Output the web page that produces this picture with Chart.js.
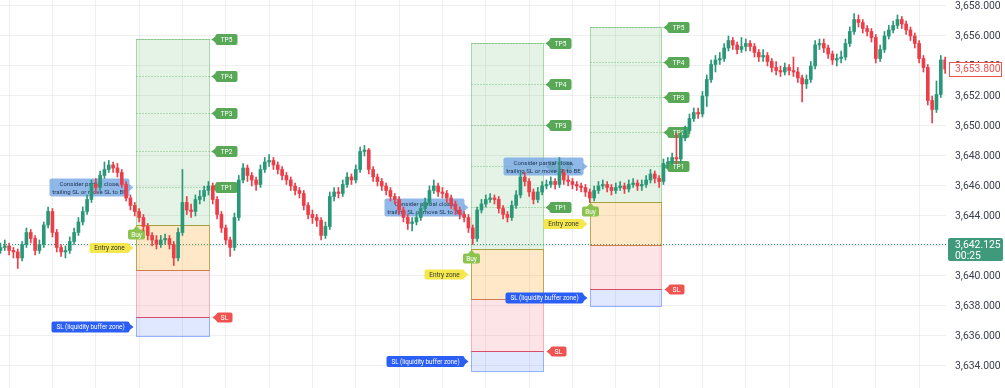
<!DOCTYPE html>
<html>
<head>
<meta charset="utf-8">
<script src="https://cdn.jsdelivr.net/npm/chart.js@4.4.1/dist/chart.umd.min.js"></script>
<style>
  html, body { margin: 0; padding: 0; background: #fff; }
  #wrap { width: 1005px; height: 388px; }
</style>
</head>
<body>
<div id="wrap"><canvas id="priceCanvas"></canvas></div>
<script>
// candles, one per index (oldest first)
var opens = [
  3641.7, 3641.9, 3642.0, 3641.7, 3641.6, 3641.2, 3642.1, 3642.9, 3642.5, 3641.7,
  3642.1, 3643.4, 3644.3, 3642.9, 3641.9, 3641.6, 3641.7, 3642.3, 3642.9, 3643.6,
  3644.3, 3645.1, 3646.1, 3645.9, 3646.7, 3647.1, 3647.4, 3647.2, 3646.9, 3646.1,
  3645.2, 3644.7, 3644.3, 3643.9, 3643.3, 3642.7, 3642.4, 3642.1, 3642.4, 3642.5,
  3642.1, 3641.2, 3642.9, 3644.9, 3644.4, 3644.3, 3645.1, 3645.3, 3645.7, 3646.0,
  3645.1, 3644.1, 3643.2, 3642.4, 3641.9, 3643.9, 3646.4, 3647.2, 3646.7, 3646.4,
  3646.1, 3647.1, 3647.6, 3647.7, 3647.4, 3647.1, 3646.7, 3646.4, 3646.0, 3645.7,
  3645.5, 3644.7, 3644.1, 3643.9, 3643.7, 3642.7, 3643.3, 3645.3, 3645.6, 3645.5,
  3646.1, 3646.6, 3646.4, 3647.1, 3648.3, 3648.4, 3647.1, 3646.6, 3646.3, 3646.0,
  3645.7, 3645.3, 3645.1, 3644.4, 3643.9, 3643.5, 3643.6, 3643.9, 3644.5, 3644.9,
  3645.7, 3646.0, 3645.6, 3645.5, 3645.2, 3644.8, 3644.4, 3644.1, 3643.9, 3643.2,
  3642.5, 3644.4, 3644.8, 3645.1, 3645.2, 3645.1, 3644.5, 3644.1, 3643.9, 3644.7,
  3645.4, 3646.6, 3646.3, 3645.6, 3645.1, 3645.6, 3646.0, 3646.1, 3646.3, 3646.1,
  3646.9, 3646.4, 3646.3, 3646.1, 3646.0, 3645.9, 3645.6, 3645.2, 3645.7, 3646.0,
  3646.1, 3645.9, 3645.7, 3645.9, 3646.0, 3645.8, 3646.1, 3646.2, 3646.0, 3646.1,
  3646.4, 3646.8, 3646.5, 3646.3, 3647.5, 3647.6, 3647.9, 3647.8, 3649.2, 3649.7,
  3650.5, 3650.9, 3650.8, 3652.0, 3653.1, 3654.1, 3654.4, 3654.5, 3655.2, 3655.7,
  3655.4, 3655.1, 3655.3, 3655.5, 3655.3, 3654.9, 3654.6, 3654.7, 3654.3, 3653.9,
  3653.7, 3653.6, 3653.9, 3653.7, 3653.6, 3653.2, 3652.8, 3653.1, 3654.0, 3655.4,
  3655.5, 3655.2, 3654.8, 3654.4, 3654.5, 3654.6, 3655.5, 3656.3, 3657.1, 3656.9,
  3656.5, 3656.3, 3655.9, 3654.5, 3655.1, 3656.0, 3656.4, 3656.7, 3657.1, 3656.8,
  3656.4, 3656.0, 3655.5, 3654.5, 3653.9, 3651.7, 3651.1, 3652.1, 3654.4
];
var highs = [
  3642.2, 3642.4, 3642.2, 3641.9, 3641.8, 3642.3, 3643.2, 3643.1, 3642.7, 3642.4,
  3643.6, 3644.6, 3644.5, 3643.1, 3642.1, 3642.0, 3642.6, 3643.2, 3643.9, 3644.6,
  3645.4, 3646.4, 3646.5, 3647.0, 3647.6, 3647.7, 3647.6, 3647.5, 3647.1, 3646.3,
  3645.4, 3644.9, 3644.5, 3644.1, 3643.5, 3642.9, 3642.7, 3642.7, 3642.8, 3642.7,
  3642.3, 3643.2, 3647.1, 3645.3, 3644.8, 3645.4, 3645.7, 3646.0, 3646.3, 3646.2,
  3645.3, 3644.3, 3643.4, 3642.6, 3644.2, 3646.7, 3647.5, 3647.4, 3646.9, 3646.6,
  3647.4, 3647.9, 3648.1, 3647.9, 3647.6, 3647.3, 3646.9, 3646.6, 3646.2, 3645.9,
  3645.7, 3644.9, 3644.4, 3644.1, 3643.9, 3643.6, 3645.6, 3645.9, 3645.9, 3646.4,
  3646.9, 3646.8, 3647.4, 3648.6, 3648.7, 3648.5, 3647.3, 3646.8, 3646.5, 3646.2,
  3645.9, 3645.5, 3645.3, 3644.6, 3644.1, 3643.9, 3644.2, 3644.8, 3645.2, 3646.0,
  3646.4, 3646.2, 3645.9, 3645.7, 3645.4, 3645.0, 3644.6, 3644.3, 3644.1, 3643.4,
  3644.6, 3645.1, 3645.4, 3645.5, 3645.4, 3645.3, 3644.7, 3644.3, 3645.0, 3645.7,
  3646.9, 3646.9, 3646.5, 3645.8, 3645.9, 3646.3, 3646.4, 3646.6, 3646.5, 3647.9,
  3647.1, 3646.7, 3646.5, 3646.3, 3646.2, 3646.1, 3645.8, 3646.0, 3646.3, 3646.4,
  3646.3, 3646.1, 3646.2, 3646.3, 3646.2, 3646.4, 3646.5, 3646.4, 3646.4, 3646.7,
  3647.1, 3647.0, 3646.7, 3647.8, 3647.9, 3648.2, 3649.5, 3649.5, 3650.0, 3650.8,
  3651.2, 3651.2, 3652.3, 3653.4, 3654.4, 3654.7, 3654.9, 3655.5, 3656.0, 3655.9,
  3655.6, 3655.9, 3655.8, 3655.7, 3655.5, 3655.1, 3655.1, 3654.9, 3654.5, 3654.3,
  3654.0, 3654.2, 3654.1, 3654.6, 3653.9, 3653.4, 3653.4, 3654.3, 3655.7, 3655.8,
  3655.8, 3655.4, 3655.0, 3654.8, 3655.0, 3655.8, 3656.6, 3657.5, 3657.4, 3657.1,
  3656.7, 3656.5, 3656.1, 3655.4, 3656.3, 3656.7, 3657.0, 3657.4, 3657.3, 3657.0,
  3656.6, 3656.2, 3655.7, 3654.7, 3654.1, 3652.0, 3653.0, 3654.7, 3654.6
];
var lows = [
  3641.5, 3641.7, 3641.4, 3641.2, 3640.5, 3641.0, 3641.9, 3642.2, 3641.4, 3641.5,
  3641.9, 3643.2, 3642.6, 3641.6, 3641.3, 3641.2, 3641.5, 3642.1, 3642.7, 3643.4,
  3644.1, 3644.9, 3645.5, 3645.7, 3646.5, 3646.9, 3646.9, 3646.6, 3645.9, 3645.0,
  3644.4, 3644.0, 3643.6, 3643.0, 3642.4, 3642.0, 3641.8, 3641.9, 3642.1, 3641.8,
  3640.7, 3641.0, 3642.7, 3644.1, 3643.9, 3644.0, 3644.8, 3645.0, 3645.4, 3644.8,
  3643.8, 3642.9, 3642.1, 3641.3, 3641.7, 3643.7, 3646.2, 3646.3, 3646.0, 3645.7,
  3645.9, 3646.9, 3647.3, 3647.1, 3646.8, 3646.4, 3646.1, 3645.7, 3645.4, 3645.2,
  3644.4, 3643.8, 3643.5, 3643.3, 3642.4, 3642.5, 3643.1, 3645.0, 3645.2, 3645.3,
  3645.9, 3646.1, 3646.2, 3646.9, 3648.0, 3646.8, 3646.3, 3646.0, 3645.7, 3645.4,
  3645.0, 3644.8, 3644.1, 3643.6, 3643.1, 3643.0, 3643.4, 3643.7, 3644.3, 3644.7,
  3645.5, 3645.3, 3645.2, 3644.9, 3644.5, 3644.1, 3643.8, 3643.6, 3642.9, 3642.1,
  3642.3, 3644.2, 3644.6, 3644.9, 3644.8, 3644.2, 3643.8, 3643.6, 3643.7, 3644.5,
  3645.2, 3646.0, 3645.3, 3644.8, 3644.9, 3645.4, 3645.8, 3645.9, 3645.8, 3645.9,
  3646.1, 3646.0, 3645.8, 3645.7, 3645.6, 3645.3, 3644.9, 3645.0, 3645.5, 3645.8,
  3645.6, 3645.4, 3645.5, 3645.7, 3645.5, 3645.6, 3645.9, 3645.7, 3645.7, 3645.9,
  3646.2, 3646.2, 3645.9, 3646.1, 3647.2, 3647.4, 3647.5, 3647.6, 3649.0, 3649.5,
  3650.3, 3650.5, 3650.6, 3651.3, 3652.9, 3653.6, 3654.1, 3654.3, 3655.0, 3655.1,
  3654.8, 3654.9, 3655.0, 3655.0, 3654.6, 3654.3, 3654.3, 3654.0, 3653.6, 3653.4,
  3653.3, 3653.4, 3653.4, 3653.3, 3652.9, 3651.6, 3652.5, 3652.9, 3653.8, 3655.1,
  3654.9, 3654.5, 3654.1, 3654.0, 3654.2, 3654.4, 3655.3, 3656.1, 3656.6, 3656.2,
  3656.0, 3655.6, 3654.2, 3654.3, 3654.9, 3655.8, 3656.2, 3656.5, 3656.5, 3656.1,
  3655.7, 3655.2, 3654.2, 3653.6, 3651.4, 3650.2, 3650.9, 3651.9, 3653.5
];
var closes = [
  3641.9, 3642.0, 3641.7, 3641.6, 3641.2, 3642.1, 3642.9, 3642.5, 3641.7, 3642.1,
  3643.4, 3644.3, 3642.9, 3641.9, 3641.6, 3641.7, 3642.3, 3642.9, 3643.6, 3644.3,
  3645.1, 3646.1, 3645.9, 3646.7, 3647.1, 3647.4, 3647.2, 3646.9, 3646.1, 3645.2,
  3644.7, 3644.3, 3643.9, 3643.3, 3642.7, 3642.4, 3642.1, 3642.4, 3642.5, 3642.1,
  3641.2, 3642.9, 3644.9, 3644.4, 3644.3, 3645.1, 3645.3, 3645.7, 3646.0, 3645.1,
  3644.1, 3643.2, 3642.4, 3641.9, 3643.9, 3646.4, 3647.2, 3646.7, 3646.4, 3646.1,
  3647.1, 3647.6, 3647.7, 3647.4, 3647.1, 3646.7, 3646.4, 3646.0, 3645.7, 3645.5,
  3644.7, 3644.1, 3643.9, 3643.7, 3642.7, 3643.3, 3645.3, 3645.6, 3645.5, 3646.1,
  3646.6, 3646.4, 3647.1, 3648.3, 3648.4, 3647.1, 3646.6, 3646.3, 3646.0, 3645.7,
  3645.3, 3645.1, 3644.4, 3643.9, 3643.5, 3643.6, 3643.9, 3644.5, 3644.9, 3645.7,
  3646.0, 3645.6, 3645.5, 3645.2, 3644.8, 3644.4, 3644.1, 3643.9, 3643.2, 3642.5,
  3644.4, 3644.8, 3645.1, 3645.2, 3645.1, 3644.5, 3644.1, 3643.9, 3644.7, 3645.4,
  3646.6, 3646.3, 3645.6, 3645.1, 3645.6, 3646.0, 3646.1, 3646.3, 3646.1, 3646.9,
  3646.4, 3646.3, 3646.1, 3646.0, 3645.9, 3645.6, 3645.2, 3645.7, 3646.0, 3646.1,
  3645.9, 3645.7, 3645.9, 3646.0, 3645.8, 3646.1, 3646.2, 3646.0, 3646.1, 3646.4,
  3646.8, 3646.5, 3646.3, 3647.5, 3647.6, 3647.9, 3647.8, 3649.2, 3649.7, 3650.5,
  3650.9, 3650.8, 3652.0, 3653.1, 3654.1, 3654.4, 3654.5, 3655.2, 3655.7, 3655.4,
  3655.1, 3655.3, 3655.5, 3655.3, 3654.9, 3654.6, 3654.7, 3654.3, 3653.9, 3653.7,
  3653.6, 3653.9, 3653.7, 3653.6, 3653.2, 3652.8, 3653.1, 3654.0, 3655.4, 3655.5,
  3655.2, 3654.8, 3654.4, 3654.5, 3654.6, 3655.5, 3656.3, 3657.1, 3656.9, 3656.5,
  3656.3, 3655.9, 3654.5, 3655.1, 3656.0, 3656.4, 3656.7, 3657.1, 3656.8, 3656.4,
  3656.0, 3655.5, 3654.5, 3653.9, 3651.7, 3651.1, 3652.1, 3654.4, 3653.8
];

// trade setups: box start/end as candle index, levels as prices
var setupStart = [31.3, 108.6, 136.1];
var setupEnd = [48.1, 125.2, 152.4];
var tpLevels = [
  [3645.93, 3648.33, 3650.87, 3653.33, 3655.8],
  [3644.6, 3647.33, 3650.07, 3652.8, 3655.53],
  [3647.33, 3649.6, 3651.93, 3654.27, 3656.6]
];
var entryTop = [3643.4, 3641.8, 3644.93];
var entryBottom = [3640.4, 3638.47, 3642.07];
var slLevel = [3637.27, 3635.0, 3639.13];
var bufferBottom = [3636.0, 3633.67, 3638.0];
var tpNames = ['TP1', 'TP2', 'TP3', 'TP4', 'TP5'];
var noteLines = ['Consider partial close,', 'trailing SL or move SL to BE'];

var priceLine = 3642.125;
var countdown = '00:25';
var yMin = 3632.53, yMax = 3658.4;

var upColor = '#2a9878';
var downColor = '#ec3e49';
var labelFont = 'Roboto, "Liberation Sans", sans-serif';

function fmt(v) {
  return v.toLocaleString('en-US', {minimumFractionDigits: 3, maximumFractionDigits: 3});
}

var bodyData = [], wickData = [], candleColors = [];
for (var i = 0; i < closes.length; i++) {
  bodyData.push({x: i, y: [opens[i], closes[i]]});
  wickData.push({x: i, y: [lows[i], highs[i]]});
  candleColors.push(closes[i] >= opens[i] ? upColor : downColor);
}

function roundRect(ctx, x, y, w, h, r) {
  ctx.beginPath();
  ctx.moveTo(x + r, y);
  ctx.arcTo(x + w, y, x + w, y + h, r);
  ctx.arcTo(x + w, y + h, x, y + h, r);
  ctx.arcTo(x, y + h, x, y, r);
  ctx.arcTo(x, y, x + w, y, r);
  ctx.closePath();
}

// label with a pointer; tip is where the pointer touches
function drawTag(ctx, tipX, tipY, dir, lines, opt) {
  ctx.font = opt.font;
  var tw = 0;
  lines.forEach(function(s) { tw = Math.max(tw, ctx.measureText(s).width); });
  var w = Math.round(tw + opt.padX * 2);
  var h = opt.height;
  var a = opt.arrow || 4;
  var x0, y0;
  if (dir === 'left') { x0 = tipX + a; y0 = tipY - h / 2; }
  else if (dir === 'right') { x0 = tipX - a - w; y0 = tipY - h / 2; }
  else { x0 = tipX - w / 2; y0 = tipY + a; }
  ctx.fillStyle = opt.bg;
  roundRect(ctx, x0, y0, w, h, 2);
  ctx.fill();
  ctx.beginPath();
  if (dir === 'left') {
    ctx.moveTo(tipX, tipY); ctx.lineTo(x0 + 1, tipY - a); ctx.lineTo(x0 + 1, tipY + a);
  } else if (dir === 'right') {
    ctx.moveTo(tipX, tipY); ctx.lineTo(x0 + w - 1, tipY - a); ctx.lineTo(x0 + w - 1, tipY + a);
  } else {
    ctx.moveTo(tipX, tipY); ctx.lineTo(tipX - a, y0 + 1); ctx.lineTo(tipX + a, y0 + 1);
  }
  ctx.closePath();
  ctx.fill();
  ctx.fillStyle = opt.color;
  ctx.textAlign = 'center';
  ctx.textBaseline = 'middle';
  var lh = opt.lineHeight || h;
  var cy = y0 + h / 2 - (lines.length - 1) * lh / 2;
  lines.forEach(function(s, n) { ctx.fillText(s, x0 + w / 2, cy + n * lh + 0.5); });
}

function zone(ctx, l, t, r, b, fill, stroke) {
  ctx.fillStyle = fill;
  ctx.fillRect(l, t, r - l, b - t);
  ctx.strokeStyle = stroke;
  ctx.lineWidth = 1;
  ctx.strokeRect(l, t, r - l, b - t);
}

function hline(ctx, x1, x2, y, color, dash) {
  ctx.strokeStyle = color;
  ctx.setLineDash(dash || []);
  ctx.beginPath();
  ctx.moveTo(x1, y);
  ctx.lineTo(x2, y);
  ctx.stroke();
  ctx.setLineDash([]);
}

var setupPlugin = {
  id: 'setups',
  beforeDatasetsDraw: function(chart) {
    var ctx = chart.ctx, xs = chart.scales.x, ys = chart.scales.y;
    var px = function(v) { return Math.round(xs.getPixelForValue(v)) + 0.5; };
    var py = function(v) { return Math.round(ys.getPixelForValue(v)) + 0.5; };
    ctx.save();
    hline(ctx, chart.chartArea.left, chart.chartArea.right, py(priceLine), upColor, [1, 2]);

    var small = '6.5px ' + labelFont;
    for (var k = 0; k < setupStart.length; k++) {
      var L = px(setupStart[k]), R = px(setupEnd[k]);
      var tps = tpLevels[k].map(py);
      var eTop = py(entryTop[k]), eBot = py(entryBottom[k]);
      var sl = py(slLevel[k]), bb = py(bufferBottom[k]);

      zone(ctx, L, tps[4], R, eTop, 'rgba(76,175,80,0.15)', 'rgba(76,175,80,0.45)');
      zone(ctx, L, eTop, R, eBot, 'rgba(255,152,0,0.22)', 'rgba(170,148,40,0.8)');
      zone(ctx, L, eBot, R, sl, 'rgba(242,54,69,0.13)', 'rgba(242,54,69,0.35)');
      zone(ctx, L, sl, R, bb, 'rgba(41,98,255,0.15)', 'rgba(41,98,255,0.45)');
      hline(ctx, L, R, sl, 'rgba(242,54,69,0.75)');

      for (var t = 0; t < tps.length; t++) {
        hline(ctx, L, R + 3, tps[t], 'rgba(76,175,80,0.75)', [1, 2]);
        drawTag(ctx, R + 2, tps[t], 'left', [tpNames[t]],
          {font: small, padX: 5, height: 11, bg: '#58a857', color: '#fff'});
      }
      drawTag(ctx, R + 3, sl, 'left', ['SL'],
        {font: '7px ' + labelFont, padX: 4, height: 10, bg: '#ef5350', color: '#fff'});

      drawTag(ctx, L - 3, tps[0], 'right', noteLines,
        {font: '6.1px ' + labelFont, padX: 3, height: 18, lineHeight: 8, bg: 'rgba(120,170,228,0.82)', color: '#1f3350'});
      drawTag(ctx, L - 3, (eTop + eBot) / 2, 'right', ['Entry zone'],
        {font: small, padX: 5, height: 10, bg: '#f5e84c', color: '#333'});
      drawTag(ctx, L - 3, (sl + bb) / 2, 'right', ['SL (liquidity buffer zone)'],
        {font: '6.3px ' + labelFont, padX: 5, height: 11, bg: '#2b5ef5', color: '#fff'});
      drawTag(ctx, L, eTop, 'up', ['Buy'],
        {font: small, padX: 3, height: 10, bg: '#8cc34f', color: '#fff'});
    }
    ctx.restore();
  },
  afterDraw: function(chart) {
    var ctx = chart.ctx, ys = chart.scales.y;
    ctx.save();
    var last = closes[closes.length - 1];
    var yl = Math.round(ys.getPixelForValue(last));
    ctx.fillStyle = '#fff';
    ctx.fillRect(949, yl - 7, 53, 14);
    ctx.strokeStyle = '#ef5350';
    ctx.lineWidth = 1;
    ctx.strokeRect(949.5, yl - 6.5, 52, 14);
    ctx.font = '10.4px ' + labelFont;
    ctx.textAlign = 'left';
    ctx.textBaseline = 'middle';
    ctx.fillStyle = '#ef5350';
    ctx.fillText(fmt(last), 955, yl + 0.5);

    var yp = Math.round(ys.getPixelForValue(priceLine));
    ctx.fillStyle = '#3f9a7c';
    roundRect(ctx, 948, yp - 6, 55, 23, 2);
    ctx.fill();
    ctx.fillStyle = '#fff';
    ctx.fillText(fmt(priceLine), 955, yp + 1);
    ctx.fillText(countdown, 955, yp + 12);
    ctx.restore();
  }
};

var ctx = document.getElementById('priceCanvas').getContext('2d');
var priceChart = new Chart(ctx, {
  type: 'bar',
  data: {
    datasets: [
      {
        label: 'body',
        data: bodyData,
        backgroundColor: candleColors,
        borderWidth: 0,
        barThickness: 3,
        minBarLength: 1,
        grouped: false
      },
      {
        label: 'wick',
        data: wickData,
        backgroundColor: candleColors,
        borderWidth: 0,
        barThickness: 1,
        grouped: false
      }
    ]
  },
  options: {
    responsive: true,
    maintainAspectRatio: false,
    animation: false,
    layout: {padding: 0},
    plugins: {legend: {display: false}, tooltip: {enabled: false}},
    scales: {
      x: {
        type: 'linear',
        min: -0.1,
        max: 218.2,
        offset: false,
        border: {display: false},
        grid: {color: 'rgba(42,46,57,0.07)', drawTicks: false, offset: false},
        ticks: {display: false},
        afterBuildTicks: function(scale) {
          var t = [];
          for (var v = 2; v < 218; v += 10) t.push({value: v});
          scale.ticks = t;
        },
        afterFit: function(scale) {
          scale.height = 0;
          scale.paddingLeft = 0; scale.paddingRight = 0;
        }
      },
      y: {
        position: 'right',
        min: yMin,
        max: yMax,
        border: {display: false},
        grid: {color: 'rgba(42,46,57,0.07)', drawTicks: false},
        ticks: {
          stepSize: 2,
          includeBounds: false,
          padding: 9,
          color: '#3b3f4a',
          font: {family: labelFont, size: 10.4},
          callback: function(v) { return fmt(v); }
        },
        afterFit: function(scale) {
          scale.width = 59;
          scale.paddingTop = 0; scale.paddingBottom = 0;
        }
      }
    }
  },
  plugins: [setupPlugin]
});
</script>
</body>
</html>
